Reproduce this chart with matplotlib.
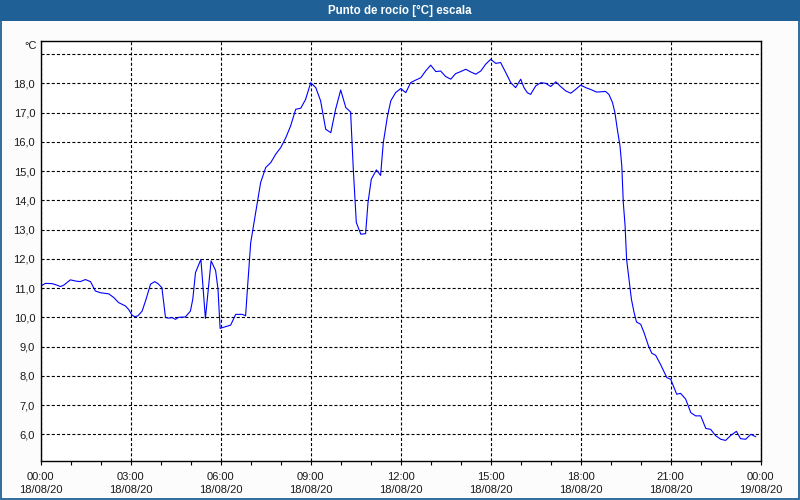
import numpy as np
import matplotlib
matplotlib.use("Agg")
import matplotlib.pyplot as plt
from matplotlib.patches import Rectangle

# hours since 18/08/20 00:00 and dew point in degC
hours = [0.02, 0.16, 0.38, 0.54, 0.66, 0.77, 0.99, 1.16, 1.32, 1.49, 1.66, 1.82, 1.99,
         2.27, 2.43, 2.60, 2.82, 2.93, 3.04, 3.13, 3.24, 3.38, 3.51, 3.66, 3.80, 3.91,
         4.04, 4.16, 4.27, 4.38, 4.49, 4.60, 4.82, 4.99, 5.07, 5.16, 5.34, 5.49, 5.68,
         5.83, 5.91, 5.98, 6.16, 6.33, 6.50, 6.72, 6.83, 6.89, 7.00, 7.11, 7.22, 7.33,
         7.50, 7.67, 7.83, 8.00, 8.17, 8.33, 8.50, 8.67, 8.83, 9.00, 9.17, 9.33, 9.50,
         9.67, 9.83, 10.00, 10.17, 10.33, 10.42, 10.52, 10.67, 10.83, 10.91, 11.02,
         11.19, 11.33, 11.42, 11.56, 11.67, 11.83, 12.00, 12.17, 12.33, 12.50, 12.67,
         12.83, 13.00, 13.17, 13.33, 13.50, 13.67, 13.83, 14.00, 14.17, 14.33, 14.50,
         14.67, 14.83, 15.00, 15.17, 15.33, 15.50, 15.67, 15.83, 16.00, 16.11, 16.22,
         16.33, 16.50, 16.67, 16.83, 17.00, 17.17, 17.33, 17.50, 17.67, 17.83, 18.00,
         18.17, 18.33, 18.53, 18.83, 18.94, 19.06, 19.14, 19.22, 19.31, 19.37, 19.42,
         19.48, 19.53, 19.61, 19.69, 19.78, 19.86, 20.00, 20.11, 20.26, 20.37, 20.50,
         20.67, 20.87, 21.00, 21.20, 21.33, 21.50, 21.67, 21.83, 22.00, 22.17, 22.33,
         22.50, 22.67, 22.83, 23.00, 23.19, 23.33, 23.50, 23.67, 23.83]
dew_point = [11.08, 11.16, 11.15, 11.10, 11.05, 11.10, 11.28, 11.24, 11.22, 11.29, 11.22,
             10.90, 10.84, 10.80, 10.68, 10.50, 10.39, 10.27, 10.08, 10.02, 10.05, 10.21,
             10.61, 11.13, 11.22, 11.15, 11.01, 9.99, 9.97, 9.99, 9.93, 10.00, 10.01,
             10.21, 10.62, 11.53, 11.98, 9.96, 11.93, 11.60, 10.96, 9.62, 9.68, 9.73,
             10.10, 10.10, 10.05, 10.96, 12.55, 13.24, 13.92, 14.60, 15.12, 15.29, 15.57,
             15.80, 16.14, 16.54, 17.11, 17.15, 17.45, 18.02, 17.85, 17.40, 16.43, 16.31,
             17.11, 17.77, 17.17, 17.02, 15.06, 13.24, 12.84, 12.86, 13.92, 14.72, 15.04,
             14.85, 15.97, 16.88, 17.40, 17.68, 17.82, 17.68, 18.02, 18.11, 18.19, 18.42,
             18.62, 18.40, 18.42, 18.23, 18.14, 18.33, 18.40, 18.48, 18.39, 18.31, 18.42,
             18.65, 18.82, 18.68, 18.71, 18.37, 18.02, 17.85, 18.14, 17.85, 17.68, 17.62,
             17.91, 18.02, 18.00, 17.89, 18.05, 17.89, 17.74, 17.66, 17.79, 17.94, 17.85,
             17.79, 17.70, 17.72, 17.62, 17.34, 17.00, 16.43, 15.86, 15.17, 13.92, 13.12,
             11.98, 11.30, 10.62, 10.16, 9.84, 9.76, 9.48, 9.02, 8.77, 8.70, 8.37, 7.94,
             7.88, 7.37, 7.40, 7.20, 6.74, 6.63, 6.63, 6.20, 6.17, 5.95, 5.83, 5.79, 5.96,
             6.10, 5.85, 5.83, 6.00, 5.92]

x_ticks = [0, 3, 6, 9, 12, 15, 18, 21, 24]
x_labels = ['00:00\n18/08/20', '03:00\n18/08/20', '06:00\n18/08/20', '09:00\n18/08/20',
            '12:00\n18/08/20', '15:00\n18/08/20', '18:00\n18/08/20', '21:00\n18/08/20',
            '00:00\n19/08/20']
y_ticks = list(range(6, 20))
y_labels = ['%d,0' % v for v in y_ticks[:-1]] + ['']

title = 'Punto de rocío [°C] escala'
bar_blue = '#1f6197'

plt.rcParams['font.family'] = ['Liberation Sans', 'DejaVu Sans']
plt.rcParams['lines.scale_dashes'] = False

fig = plt.figure(figsize=(8, 5), dpi=100, facecolor='#fbfcfb')
ax = fig.add_axes([40.7 / 800, 1 - 460.7 / 500, 720 / 800, 420 / 500])

ax.plot(hours, dew_point, color='#0000ff', linewidth=0.8)

ax.set_xlim(0, 24)
ax.set_ylim(5.097, 19.456)
ax.set_xticks(x_ticks)
ax.set_xticklabels(x_labels, fontsize=8, color='#1a1a1a', linespacing=1.4)
ax.set_xticks(np.arange(0, 25, 1), minor=True)
ax.set_yticks(y_ticks)
ax.set_yticklabels(y_labels, fontsize=8, color='#1a1a1a')

ax.tick_params(axis='x', which='both', direction='out', length=3, width=0.8, pad=5)
ax.tick_params(axis='y', length=0, pad=4)

ax.grid(True, which='major', color='black', linewidth=0.8, linestyle=(0, (2.2, 1.5)))
for s in ax.spines.values():
    s.set_linewidth(1.0)
    s.set_color('black')

fig.text(36.5 / 800, 1 - 46 / 500, '°C', fontsize=8, ha='right', va='center', color='#1a1a1a')

# window title bar and border
fig.add_artist(Rectangle((0, 1 - 20.5 / 500), 1, 20.5 / 500, transform=fig.transFigure,
                         facecolor=bar_blue, edgecolor='none'))
fig.add_artist(Rectangle((0.6 / 800, 0.6 / 500), 798.8 / 800, 498.8 / 500, transform=fig.transFigure,
                         facecolor='none', edgecolor=bar_blue, linewidth=1.3))
fig.text(0.5, 1 - 10.5 / 500, title, fontsize=8.3, fontweight='bold', color='white',
         ha='center', va='center')

plt.savefig('out.png', dpi=100, facecolor=fig.get_facecolor())
